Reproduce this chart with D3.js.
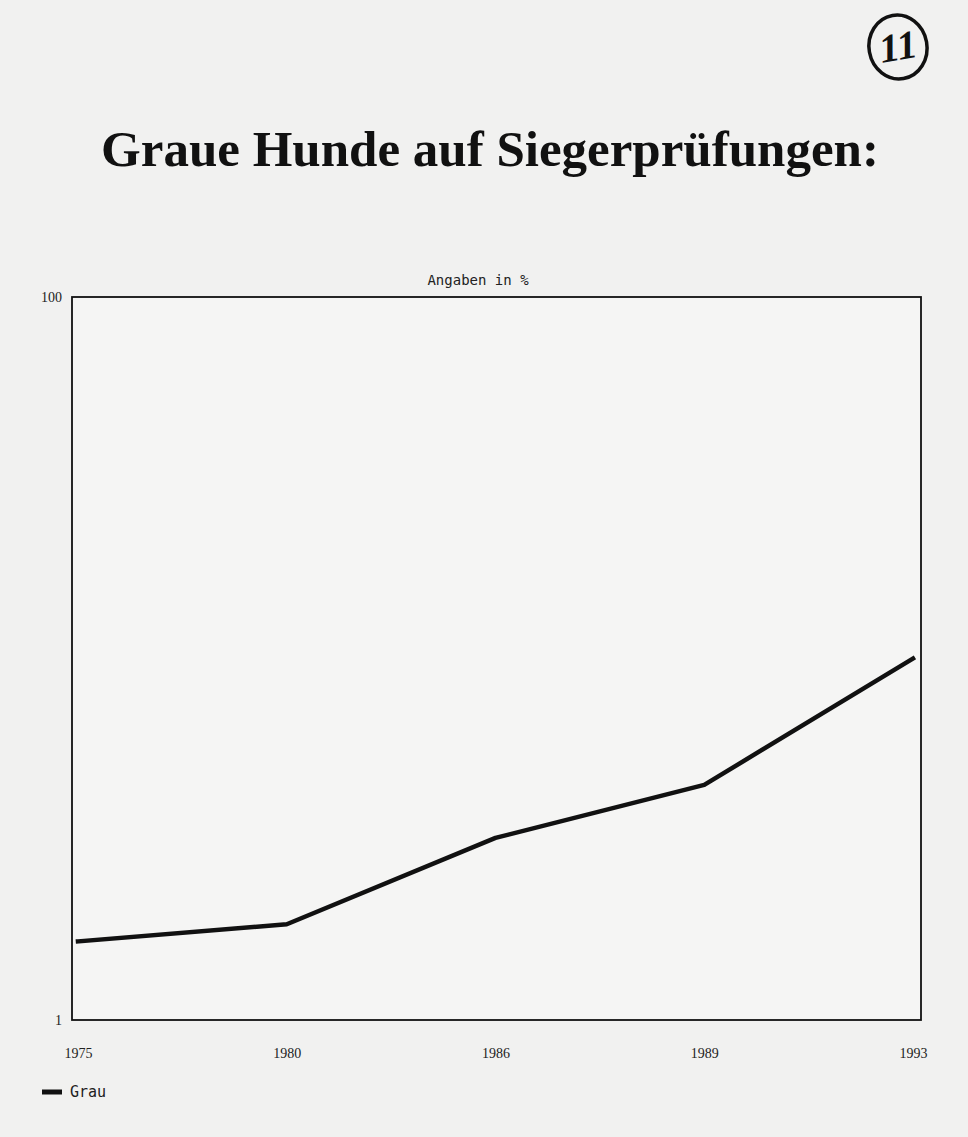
<!DOCTYPE html>
<html>
<head>
<meta charset="utf-8">
<script src="https://cdn.jsdelivr.net/npm/d3@7"></script>
<style>
  html, body { margin: 0; padding: 0; background: #f1f1f0; }
  svg { display: block; }
</style>
</head>
<body>
<div id="chart"></div>
<script>
// Grau share per year, percent (log axis)
const years  = ['1975', '1980', '1986', '1989', '1993'];
const grau   = [1.65, 1.84, 3.19, 4.47, 10.0];
const yTicks = [1, 100];

const W = 968, H = 1137;
const margin = { top: 297, right: 47, bottom: 117, left: 72 };
const innerW = W - margin.left - margin.right;
const innerH = H - margin.top - margin.bottom;

const svg = d3.select('#chart').append('svg').attr('width', W).attr('height', H);
svg.append('rect').attr('width', W).attr('height', H).attr('fill', '#f1f1f0');

// Title
svg.append('text')
  .attr('x', 490).attr('y', 166)
  .attr('text-anchor', 'middle')
  .style('font-family', '"Liberation Serif", "Times New Roman", serif')
  .style('font-weight', 'bold').style('font-size', '51px')
  .attr('fill', '#111')
  .text('Graue Hunde auf Siegerprüfungen:');

// Page number, handwritten in a circle
const mark = svg.append('g').attr('transform', 'translate(898,47) rotate(-10)');
mark.append('ellipse').attr('rx', 29).attr('ry', 32)
  .attr('fill', 'none').attr('stroke', '#111').attr('stroke-width', 3.5);
mark.append('text').attr('x', 0).attr('y', 13).attr('text-anchor', 'middle')
  .style('font-family', '"Liberation Serif", serif').style('font-style', 'italic')
  .style('font-weight', 'bold').style('font-size', '40px').attr('fill', '#111')
  .text('11');

// Subtitle
svg.append('text')
  .attr('x', 478).attr('y', 285).attr('text-anchor', 'middle')
  .style('font-family', '"DejaVu Sans Mono", monospace').style('font-size', '14px')
  .attr('fill', '#222')
  .text('Angaben in %');

const g = svg.append('g').attr('transform', `translate(${margin.left},${margin.top})`);

const x = d3.scalePoint().domain(years).range([6, innerW - 8]);
const y = d3.scaleLog().domain([1, 100]).range([innerH, 0]);

// Plot frame
g.append('rect').attr('width', innerW).attr('height', innerH)
  .attr('fill', '#f5f5f4').attr('stroke', '#111').attr('stroke-width', 1.8);

// Y axis labels
g.append('g')
  .call(d3.axisLeft(y).tickValues(yTicks).tickFormat(d3.format('d')).tickSize(0).tickPadding(10))
  .call(ax => ax.select('.domain').remove())
  .call(ax => ax.selectAll('text')
    .attr('fill', '#222')
    .style('font-family', '"Liberation Serif", serif').style('font-size', '14px'));

// X axis labels
g.append('g')
  .attr('transform', `translate(0,${innerH})`)
  .call(d3.axisBottom(x).tickSize(0).tickPadding(28))
  .call(ax => ax.select('.domain').remove())
  .call(ax => ax.selectAll('text')
    .attr('fill', '#222')
    .style('font-family', '"Liberation Serif", serif').style('font-size', '14px'));

// Line
const line = d3.line().x((d, i) => x(years[i])).y(d => y(d));
g.append('path').datum(grau)
  .attr('d', line)
  .attr('fill', 'none').attr('stroke', '#111')
  .attr('stroke-width', 4.5).attr('stroke-linejoin', 'round').attr('stroke-linecap', 'square');

// Legend
const legend = svg.append('g').attr('transform', `translate(42,${H - 45})`);
legend.append('line').attr('x1', 0).attr('x2', 20).attr('y1', 0).attr('y2', 0)
  .attr('stroke', '#111').attr('stroke-width', 5);
legend.append('text').attr('x', 28).attr('y', 5)
  .style('font-family', '"DejaVu Sans Mono", monospace').style('font-size', '15px')
  .attr('fill', '#222')
  .text('Grau');
</script>
</body>
</html>
